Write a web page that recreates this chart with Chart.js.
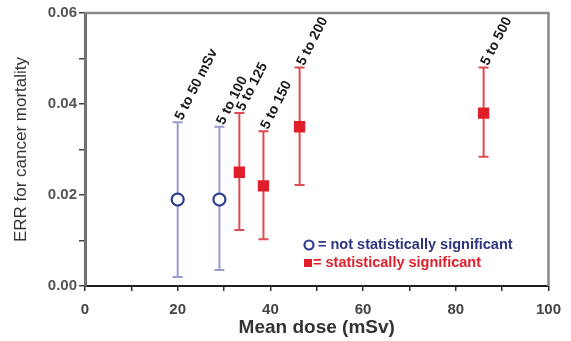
<!DOCTYPE html>
<html>
<head>
<meta charset="utf-8">
<script src="https://cdn.jsdelivr.net/npm/chart.js@4"></script>
<style>
  html, body { margin: 0; padding: 0; background: #fff; }
  #wrap { width: 571px; height: 341px; }
</style>
</head>
<body>
<div id="wrap"><canvas id="errChart" width="571" height="341"></canvas></div>
<script>
// Data
const doseNotSig  = [20, 29];
const errNotSig   = [0.019, 0.019];
const lowNotSig   = [0.002, 0.0035];
const highNotSig  = [0.036, 0.035];
const rangeNotSig = ["5 to 50 mSv", "5 to 100"];

const doseSig  = [33.3, 38.5, 46.3, 86];
const errSig   = [0.025, 0.022, 0.035, 0.038];
const lowSig   = [0.0123, 0.0103, 0.0222, 0.0284];
const highSig  = [0.038, 0.034, 0.048, 0.048];
const rangeSig = ["5 to 125", "5 to 150", "5 to 200", "5 to 500"];

const xTickLabels = [0, 20, 40, 60, 80, 100];
const yTickLabels = [0, 0.02, 0.04, 0.06];

const legendText = ["= not statistically significant", "= statistically significant"];

const blueBar = "#9a9ad0", blueMark = "#2f3f90";
const redBar = "#e04a52", redMark = "#e01e2a";
const FONT = "Arial, 'Liberation Sans', sans-serif";

const pts = (xs, ys) => xs.map((x, i) => ({ x, y: ys[i] }));

// error bars, range labels, box and legend
const extras = {
  id: "extras",
  beforeDatasetsDraw(chart) {
    const { ctx, scales: { x, y } } = chart;
    const bars = [
      [doseNotSig, lowNotSig, highNotSig, blueBar],
      [doseSig, lowSig, highSig, redBar]
    ];
    ctx.save();
    ctx.lineWidth = 2;
    bars.forEach(([xs, lo, hi, col]) => {
      ctx.strokeStyle = col;
      xs.forEach((d, i) => {
        const px = x.getPixelForValue(d);
        const y1 = y.getPixelForValue(lo[i]), y2 = y.getPixelForValue(hi[i]);
        ctx.beginPath();
        ctx.moveTo(px, y1); ctx.lineTo(px, y2);
        ctx.moveTo(px - 5, y1); ctx.lineTo(px + 5, y1);
        ctx.moveTo(px - 5, y2); ctx.lineTo(px + 5, y2);
        ctx.stroke();
      });
    });
    ctx.restore();
  },
  afterDraw(chart) {
    const { ctx, chartArea: a, scales: { x, y } } = chart;
    ctx.save();
    // top and right frame
    ctx.strokeStyle = "#8a8a8a";
    ctx.lineWidth = 2.5;
    ctx.beginPath();
    ctx.moveTo(a.left, a.top); ctx.lineTo(a.right, a.top); ctx.lineTo(a.right, a.bottom);
    ctx.stroke();

    // rotated range labels
    ctx.fillStyle = "#1a1a1a";
    ctx.font = "bold 14px " + FONT;
    ctx.textAlign = "left";
    ctx.textBaseline = "middle";
    [[doseNotSig, highNotSig, rangeNotSig], [doseSig, highSig, rangeSig]].forEach(([xs, hi, txt]) => {
      xs.forEach((d, i) => {
        ctx.save();
        ctx.translate(x.getPixelForValue(d) + 1, y.getPixelForValue(hi[i]) - 3);
        ctx.rotate(-63 * Math.PI / 180);
        ctx.fillText(txt[i], 0, 0);
        ctx.restore();
      });
    });

    // legend
    ctx.font = "bold 14.5px " + FONT;
    ctx.strokeStyle = blueMark;
    ctx.lineWidth = 2.2;
    ctx.beginPath();
    ctx.arc(309, 245, 4.5, 0, Math.PI * 2);
    ctx.stroke();
    ctx.fillStyle = "#2c3580";
    ctx.fillText(legendText[0], 318, 245);
    ctx.fillStyle = redMark;
    ctx.fillRect(304, 259, 8, 8);
    ctx.fillText(legendText[1], 313, 263);
    ctx.restore();
  }
};

new Chart(document.getElementById("errChart"), {
  type: "scatter",
  data: {
    datasets: [
      {
        data: pts(doseNotSig, errNotSig),
        pointStyle: "circle",
        pointRadius: 6,
        pointBorderWidth: 2.2,
        pointBackgroundColor: "#fff",
        pointBorderColor: blueMark
      },
      {
        data: pts(doseSig, errSig),
        pointStyle: "rect",
        pointRadius: 8,
        pointBorderWidth: 0,
        pointBackgroundColor: redMark,
        pointBorderColor: redMark
      }
    ]
  },
  options: {
    responsive: false,
    animation: false,
    layout: { padding: { top: 13, right: 19, left: 0, bottom: 0 } },
    plugins: { legend: { display: false }, tooltip: { enabled: false } },
    scales: {
      x: {
        type: "linear", min: 0, max: 100,
        afterFit: (s) => { s.height = 55; },
        border: { color: "#1e1e1e", width: 2 },
        grid: { drawOnChartArea: false, drawTicks: true, tickLength: 5, color: "#333", lineWidth: 1.5 },
        ticks: {
          stepSize: 10, padding: 10, color: "#444",
          font: { family: FONT, size: 15, weight: "bold" },
          callback: (v) => xTickLabels.includes(v) ? String(v) : ""
        },
        title: {
          display: true, text: "Mean dose (mSv)", color: "#333",
          font: { family: FONT, size: 19, weight: "bold" },
          padding: { top: 0, bottom: 2 }
        }
      },
      y: {
        type: "linear", min: 0, max: 0.06,
        afterFit: (s) => { s.width = 85; },
        border: { color: "#707070", width: 3 },
        grid: { drawOnChartArea: false, drawTicks: true, tickLength: 6, color: "#444", lineWidth: 1.5 },
        ticks: {
          stepSize: 0.01, padding: 2, color: "#555",
          font: { family: FONT, size: 15, weight: "bold" },
          callback: (v) => yTickLabels.some(t => Math.abs(t - v) < 1e-9) ? v.toFixed(2) : ""
        },
        title: {
          display: true, text: "ERR for cancer mortality", color: "#333",
          font: { family: FONT, size: 17, weight: "normal" },
          padding: { bottom: 0, top: 11 }
        }
      }
    }
  },
  plugins: [extras]
});
</script>
</body>
</html>
